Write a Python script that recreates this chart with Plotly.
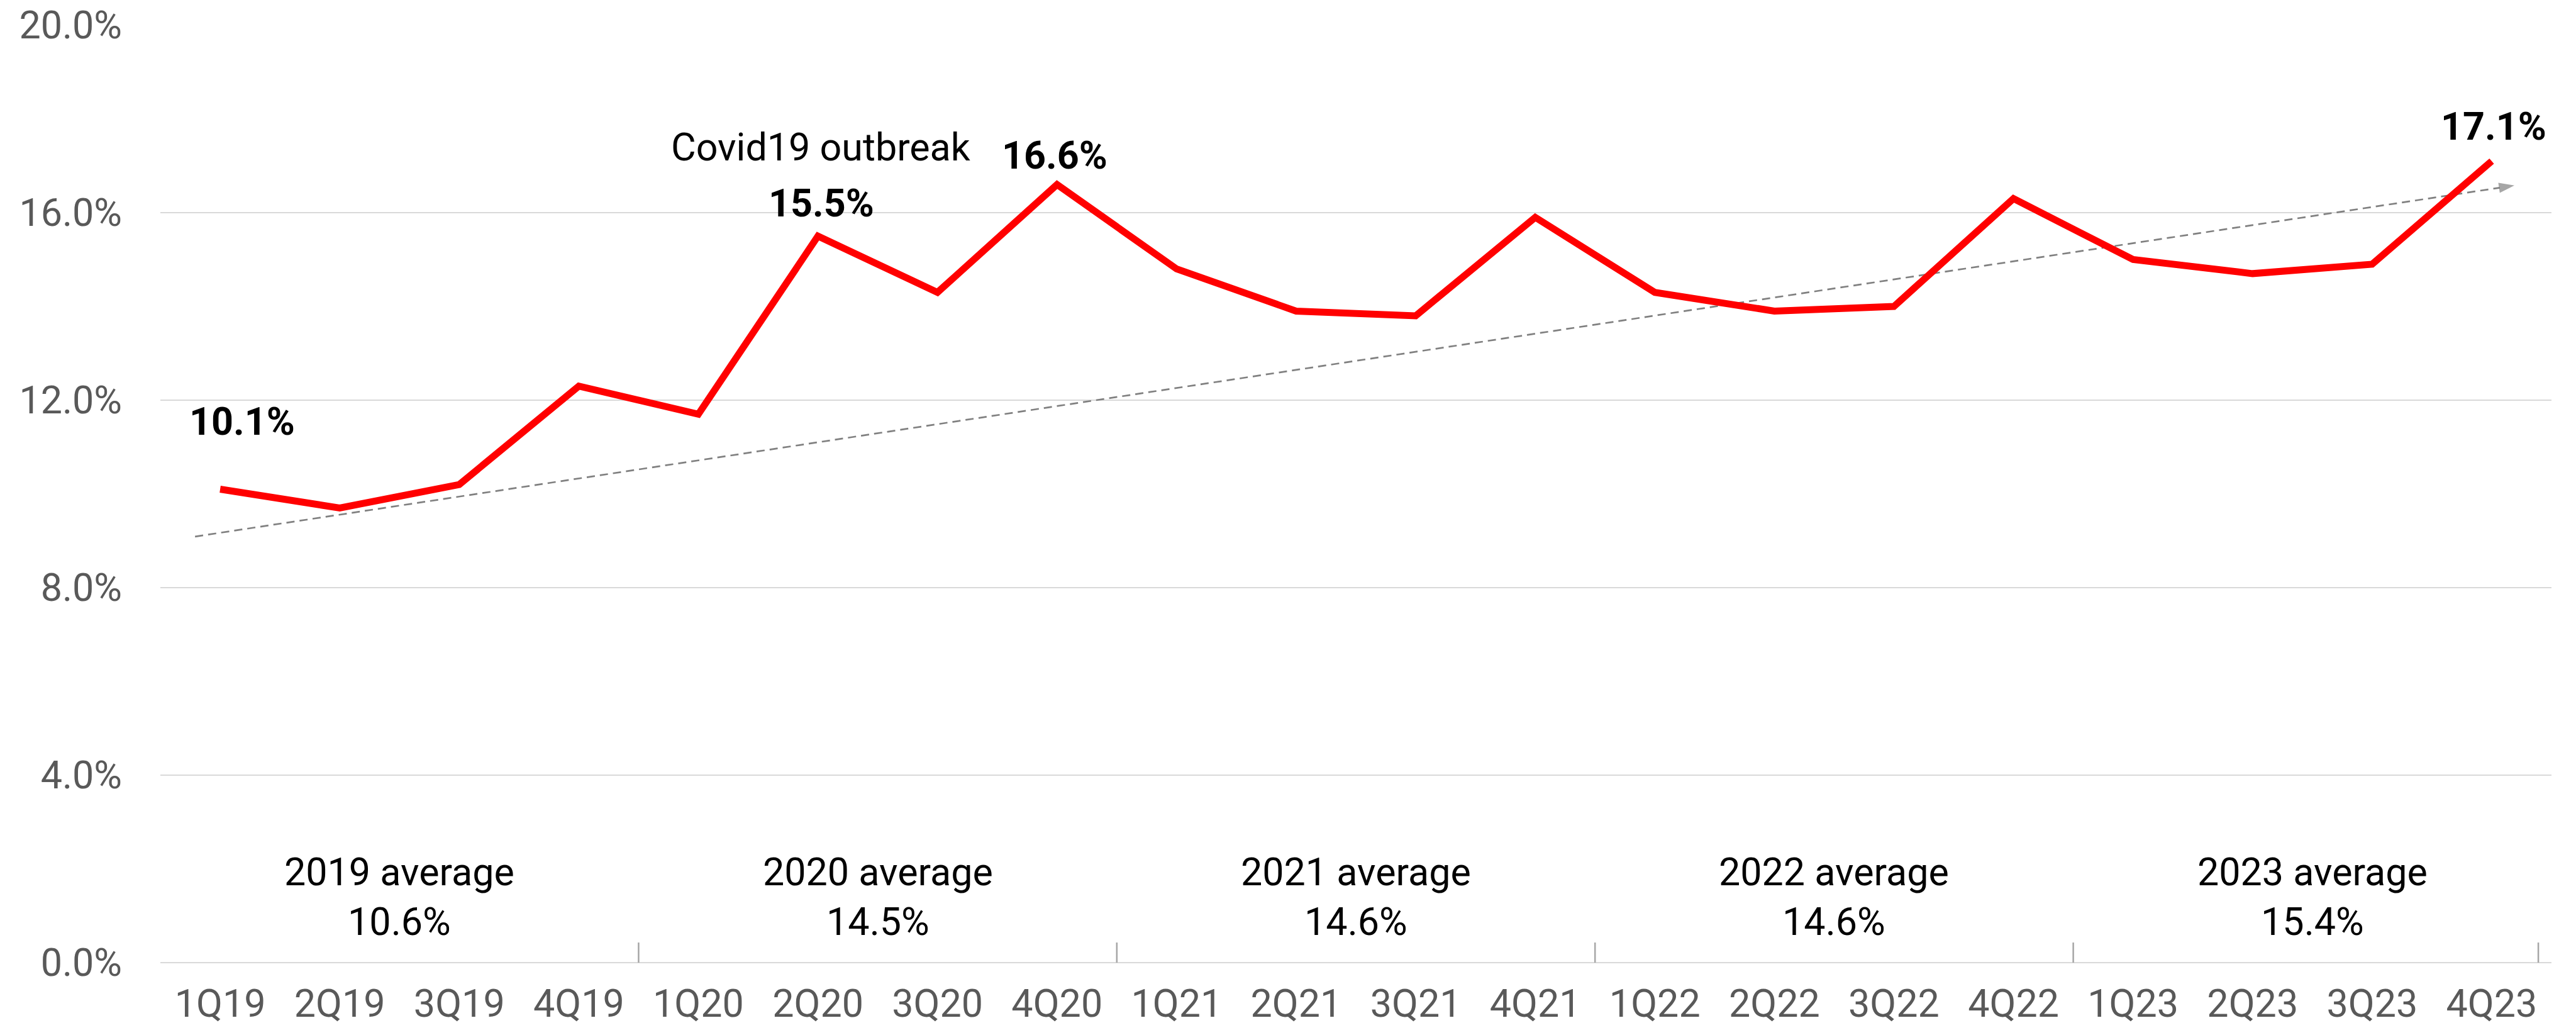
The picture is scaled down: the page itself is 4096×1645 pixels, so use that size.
import plotly.graph_objects as go

# ---------------- data ----------------
quarters = ["1Q19", "2Q19", "3Q19", "4Q19",
            "1Q20", "2Q20", "3Q20", "4Q20",
            "1Q21", "2Q21", "3Q21", "4Q21",
            "1Q22", "2Q22", "3Q22", "4Q22",
            "1Q23", "2Q23", "3Q23", "4Q23"]
values = [10.1, 9.7, 10.2, 12.3,
          11.7, 15.5, 14.3, 16.6,
          14.8, 13.9, 13.8, 15.9,
          14.3, 13.9, 14.0, 16.3,
          15.0, 14.7, 14.9, 17.1]
years = ["2019", "2020", "2021", "2022", "2023"]
year_avg = [10.6, 14.5, 14.6, 14.6, 15.4]
labelled_quarters = ["1Q19", "2Q20", "4Q20", "4Q23"]
trend_x = [-0.21, 19.19]
trend_y = [9.09, 16.58]
y_ticks = [0, 4, 8, 12, 16, 20]
y_tick_labels = ["0.0%", "4.0%", "8.0%", "12.0%", "16.0%", "20.0%"]
event_quarter = "2Q20"
event_text = "Covid19 outbreak"

# ---------------- style ----------------
FONT = "Roboto, 'Liberation Sans', Arial, sans-serif"
FS = 61
GREY_TXT = "#595959"
GRID = "#D9D9D9"
label_offsets = {  # pixel shifts of the bold value labels
    "1Q19": (35, 108),
    "2Q20": (5, 52),
    "4Q20": (-4, 46),
    "4Q23": (3, 55),
}

xs = list(range(len(quarters)))

fig = go.Figure()

# trend arrow (dashed)
fig.add_trace(go.Scatter(
    x=trend_x, y=trend_y, mode="lines+markers",
    line=dict(color="#808080", width=2.7, dash="13px,8px"),
    marker=dict(symbol="arrow", size=[0, 26], color="#808080",
                angleref="previous", line=dict(width=0)),
    hoverinfo="skip", showlegend=False,
))

# main series
fig.add_trace(go.Scatter(
    x=xs, y=values, mode="lines",
    line=dict(color="#FF0000", width=11),
    showlegend=False,
))

annotations = []
for q in labelled_quarters:
    i = quarters.index(q)
    dx, dy = label_offsets[q]
    annotations.append(dict(
        x=i, y=values[i], xref="x", yref="y", text=f"<b>{values[i]:.1f}%</b>",
        showarrow=False, xanchor="center", yanchor="middle",
        xshift=dx, yshift=dy,
        font=dict(family=FONT, size=FS, color="#000000"),
    ))

ei = quarters.index(event_quarter)
annotations.append(dict(
    x=ei, y=values[ei], xref="x", yref="y", text=event_text,
    showarrow=False, xanchor="center", yanchor="middle",
    xshift=4, yshift=141,
    font=dict(family=FONT, size=FS, color="#000000"),
))

for k, (yr, av) in enumerate(zip(years, year_avg)):
    annotations.append(dict(
        x=4 * k + 1.5, y=1.4, xref="x", yref="y",
        text=f"{yr} average<br>{av:.1f}%",
        showarrow=False, xanchor="center", yanchor="middle",
        font=dict(family=FONT, size=FS, color="#000000"),
    ))

shapes = []
sep_positions = [3.5, 7.5, 11.5, 15.5, 19.39]
for sx in sep_positions:
    shapes.append(dict(
        type="line", xref="x", yref="y", x0=sx, x1=sx, y0=0, y1=0.43,
        line=dict(color="#A6A6A6", width=2.5),
    ))

fig.update_layout(
    width=4096, height=1645,
    margin=dict(l=255, r=39, t=40, b=115, autoexpand=False),
    paper_bgcolor="white", plot_bgcolor="white",
    font=dict(family=FONT, size=FS, color=GREY_TXT),
    annotations=annotations, shapes=shapes,
    showlegend=False,
)
fig.update_xaxes(
    range=[-0.5, 19.5], tickvals=xs, ticktext=quarters,
    showgrid=False, zeroline=False, showline=False, ticks="",
    tickfont=dict(family=FONT, size=FS, color=GREY_TXT),
    ticklabelstandoff=24,
)
fig.update_yaxes(
    range=[0, 20], tickvals=y_ticks, ticktext=y_tick_labels,
    showgrid=True, gridcolor=GRID, gridwidth=2,
    zeroline=True, zerolinecolor=GRID, zerolinewidth=2,
    showline=False, ticks="",
    tickfont=dict(family=FONT, size=FS, color=GREY_TXT),
    ticklabelstandoff=60,
)

fig.write_html("out.html")
